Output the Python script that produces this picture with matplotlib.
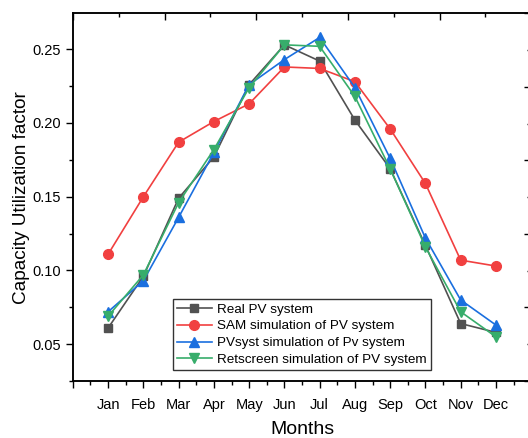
import numpy as np
import matplotlib
matplotlib.use('Agg')
import matplotlib.pyplot as plt
from matplotlib.ticker import MultipleLocator, NullFormatter

plt.rcParams['font.family'] = ['Liberation Sans', 'DejaVu Sans']

# data
months = ['Jan', 'Feb', 'Mar', 'Apr', 'May', 'Jun', 'Jul', 'Aug', 'Sep', 'Oct', 'Nov', 'Dec']
real_pv = [0.061, 0.096, 0.149, 0.177, 0.226, 0.253, 0.242, 0.202, 0.169, 0.117, 0.064, 0.058]
sam_sim = [0.111, 0.150, 0.187, 0.201, 0.213, 0.238, 0.237, 0.228, 0.196, 0.159, 0.107, 0.103]
pvsyst_sim = [0.072, 0.093, 0.136, 0.180, 0.226, 0.243, 0.258, 0.224, 0.176, 0.122, 0.080, 0.063]
retscreen_sim = [0.069, 0.097, 0.146, 0.182, 0.224, 0.253, 0.252, 0.218, 0.169, 0.116, 0.072, 0.055]

x = np.arange(1, len(months) + 1)

fig = plt.figure(figsize=(5.28, 4.38), dpi=100)
pos = [0.138, 0.130, 0.868, 0.840]
ax = fig.add_axes(pos)

ax.plot(x, real_pv, color='#515151', marker='s', markersize=6, lw=1.2, label='Real PV system')
ax.plot(x, sam_sim, color='#F14040', marker='o', markersize=7, lw=1.2, label='SAM simulation of PV system')
ax.plot(x, pvsyst_sim, color='#1A6FDF', marker='^', markersize=7.5, lw=1.2, label='PVsyst simulation of Pv system')
ax.plot(x, retscreen_sim, color='#37AD6B', marker='v', markersize=7.5, lw=1.2, label='Retscreen simulation of PV system')

ax.set_xlim(0, 13)
ax.set_ylim(0.025, 0.2745)
ax.set_xticks(np.arange(0, 14))
ax.set_xticklabels([''] + months + [''])
ax.xaxis.set_minor_locator(MultipleLocator(0.5))
ax.set_yticks([0.05, 0.10, 0.15, 0.20, 0.25])
ax.set_yticklabels(['0.05', '0.10', '0.15', '0.20', '0.25'])
ax.yaxis.set_minor_locator(MultipleLocator(0.025))
ax.tick_params(which='major', direction='out', length=5, width=1, labelsize=10.5)
ax.tick_params(which='minor', direction='out', length=3, width=1)
ax.tick_params(axis='x', pad=7)
for s in ax.spines.values():
    s.set_linewidth(1.1)

ax.set_xlabel('Months', fontsize=14, labelpad=7)
ax.set_ylabel('Capacity Utilization factor', fontsize=13.7, labelpad=2)

leg = ax.legend(loc='lower left', bbox_to_anchor=(0.218, 0.030), borderaxespad=0, fontsize=9.7,
                fancybox=False, edgecolor='#333333', framealpha=1,
                borderpad=0.3, labelspacing=0.32, handlelength=2.6, handletextpad=0.4)
leg.get_frame().set_linewidth(1.0)

# top / right ticks (second frame, no labels)
ax2 = fig.add_axes(pos, facecolor='none')
ax2.set_xlim(0, 1)
ax2.set_ylim(0, 1)
ax2.xaxis.set_major_locator(MultipleLocator(0.2))
ax2.xaxis.set_minor_locator(MultipleLocator(0.1))
ax2.yaxis.set_major_locator(MultipleLocator(0.2))
ax2.yaxis.set_minor_locator(MultipleLocator(0.1))
ax2.xaxis.set_major_formatter(NullFormatter())
ax2.yaxis.set_major_formatter(NullFormatter())
ax2.tick_params(which='both', direction='in', bottom=False, left=False, top=True, right=True,
                labelbottom=False, labelleft=False)
ax2.tick_params(which='major', length=5, width=1)
ax2.tick_params(which='minor', length=3, width=1)
for s in ax2.spines.values():
    s.set_linewidth(1.1)

fig.savefig('out.png', dpi=100)
